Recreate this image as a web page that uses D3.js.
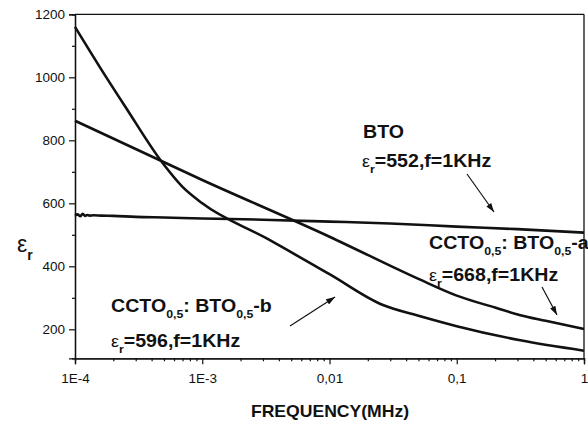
<!DOCTYPE html>
<html><head><meta charset="utf-8">
<script src="https://cdn.jsdelivr.net/npm/d3@7"></script>
<style>
html,body{margin:0;padding:0;background:#fff;}
svg{display:block;font-family:"Liberation Sans",Arial,sans-serif;}
</style></head>
<body><svg id="c" width="588" height="424"></svg>
<script>
// ---- data (frequency in MHz, relative permittivity) ----
const btoFreq  = [0.0001,0.000105,0.00011,0.000115,0.00012,0.000125,0.00013,0.00014,0.00016,0.0002,0.0003,0.0005,0.001,0.003,0.01,0.03,0.1,0.3,1];
const btoEps   = [561,565,559,567,560,563,561,562,561,560,557,555,552,548,542,536,526,518,507];
const ccaFreq  = [0.0001,0.001,0.01,0.05,0.1,0.2,0.316,0.5,1];
const ccaEps   = [862,674,494,360,307,269,245,227,201];
const ccbFreq  = [0.0001,0.000158,0.00025,0.00049,0.0007,0.001,0.00316,0.01,0.0263,0.05,0.1,0.316,1];
const ccbEps   = [1160,1030,905,727,652,600,490,375,277,243,210,165,132];
const xMajor   = [0.0001,0.001,0.01,0.1,1];
const xLabels  = ["1E-4","1E-3","0,01","0,1","1"];
const yMajor   = [200,400,600,800,1000,1200];
const yMinor   = [300,500,700,900,1100];

const svg = d3.select("#c");
const L=75, R=584, T=14.3, B=358.3;
const x = d3.scaleLog().domain([1e-4,1]).range([L,R]);
const y = d3.scaleLinear().domain([108,1200]).range([B,T]);
const ink="#111";
const FONT="Liberation Sans, Arial, sans-serif";

// minor x ticks
const xMinor=[];
for(let d=0; d<4; d++){ for(let k=2;k<=9;k++) xMinor.push(k*xMajor[d]); }

const gx = svg.append("g").attr("transform",`translate(0,${B})`);
gx.call(d3.axisBottom(x).tickValues(xMinor).tickSize(3).tickFormat(""));
gx.append("g").call(d3.axisBottom(x).tickValues(xMajor).tickSize(6).tickPadding(9)
   .tickFormat((d,i)=>xLabels[i]));
gx.selectAll("path.domain").attr("stroke",ink).attr("stroke-width",1.3);
gx.selectAll("line").attr("stroke",ink).attr("stroke-width",1.2);
gx.selectAll("text").attr("font-size",13.5).attr("fill",ink).attr("font-family",FONT);

const gy = svg.append("g").attr("transform",`translate(${L},0)`);
gy.call(d3.axisLeft(y).tickValues(yMinor).tickSize(3).tickFormat(""));
gy.append("g").call(d3.axisLeft(y).tickValues(yMajor).tickSize(6).tickPadding(4).tickFormat(d3.format("d")));
gy.selectAll("path.domain").attr("stroke",ink).attr("stroke-width",1.3);
gy.selectAll("line").attr("stroke",ink).attr("stroke-width",1.2);
gy.selectAll("text").attr("font-size",13.5).attr("fill",ink).attr("font-family",FONT);

// frame top & right
svg.append("line").attr("x1",L).attr("x2",R).attr("y1",T).attr("y2",T).attr("stroke",ink).attr("stroke-width",1.3);
svg.append("line").attr("x1",R).attr("x2",R).attr("y1",T).attr("y2",B).attr("stroke",ink).attr("stroke-width",1.3);

// curves
const line = d3.line().x(d=>x(d[0])).y(d=>y(d[1])).curve(d3.curveMonotoneX);
const series=[[btoFreq,btoEps],[ccaFreq,ccaEps],[ccbFreq,ccbEps]];
series.forEach(([f,e])=>{
  svg.append("path").datum(f.map((v,i)=>[v,e[i]])).attr("d",line)
    .attr("fill","none").attr("stroke",ink).attr("stroke-width",2.6).attr("stroke-linejoin","round");
});

// arrows
svg.append("defs").append("marker").attr("id","ah").attr("viewBox","0 0 12 8").attr("refX",12).attr("refY",4)
  .attr("markerWidth",11).attr("markerHeight",6).attr("markerUnits","userSpaceOnUse").attr("orient","auto")
  .append("path").attr("d","M0,0 L12,4 L0,8 z").attr("fill",ink);
[[467,174,494,212],[542,287,557,315],[290,326,335,297]].forEach(a=>{
  svg.append("line").attr("x1",a[0]).attr("y1",a[1]).attr("x2",a[2]).attr("y2",a[3])
    .attr("stroke",ink).attr("stroke-width",1.2).attr("marker-end","url(#ah)");
});

// annotation text helpers (horizontally stretched like the original figure)
const SX=1.12, FS=17.5, SUB=11;
function epsLabel(x0,y0,rest){
  const t=svg.append("text").attr("transform",`translate(${x0},${y0}) scale(${SX},1)`).attr("fill",ink);
  t.append("tspan").text("ε").attr("font-size",16);
  t.append("tspan").text("r").attr("font-size",SUB).attr("font-weight","bold").attr("dy",6);
  t.append("tspan").text(rest).attr("font-size",FS).attr("font-weight","bold").attr("dy",-6);
}
function cctoLabel(x0,y0,suffix){
  const t=svg.append("text").attr("transform",`translate(${x0},${y0}) scale(${SX},1)`).attr("fill",ink).attr("font-weight","bold");
  t.append("tspan").text("CCTO").attr("font-size",FS);
  t.append("tspan").text("0,5").attr("font-size",SUB).attr("dy",6);
  t.append("tspan").text(": BTO").attr("font-size",FS).attr("dy",-6);
  t.append("tspan").text("0,5").attr("font-size",SUB).attr("dy",6);
  t.append("tspan").text(suffix).attr("font-size",FS).attr("dy",-6);
}
svg.append("text").attr("transform",`translate(363,138) scale(${SX},1)`).attr("font-size",FS).attr("font-weight","bold").attr("fill",ink).text("BTO");
epsLabel(362,167,"=552,f=1KHz");
cctoLabel(429,249,"-a");
epsLabel(429,281,"=668,f=1KHz");
cctoLabel(111,312,"-b");
epsLabel(111,347,"=596,f=1KHz");

// axis titles
svg.append("text").attr("transform","translate(330,417) scale(1.1,1)").attr("text-anchor","middle").attr("font-size",16)
  .attr("font-weight","bold").attr("fill",ink).text("FREQUENCY(MHz)");
const yt=svg.append("text").attr("x",17).attr("y",252).attr("fill",ink);
yt.append("tspan").text("ε").attr("font-size",23);
yt.append("tspan").text("r").attr("font-size",14).attr("font-weight","bold").attr("dy",8);
</script></body></html>
